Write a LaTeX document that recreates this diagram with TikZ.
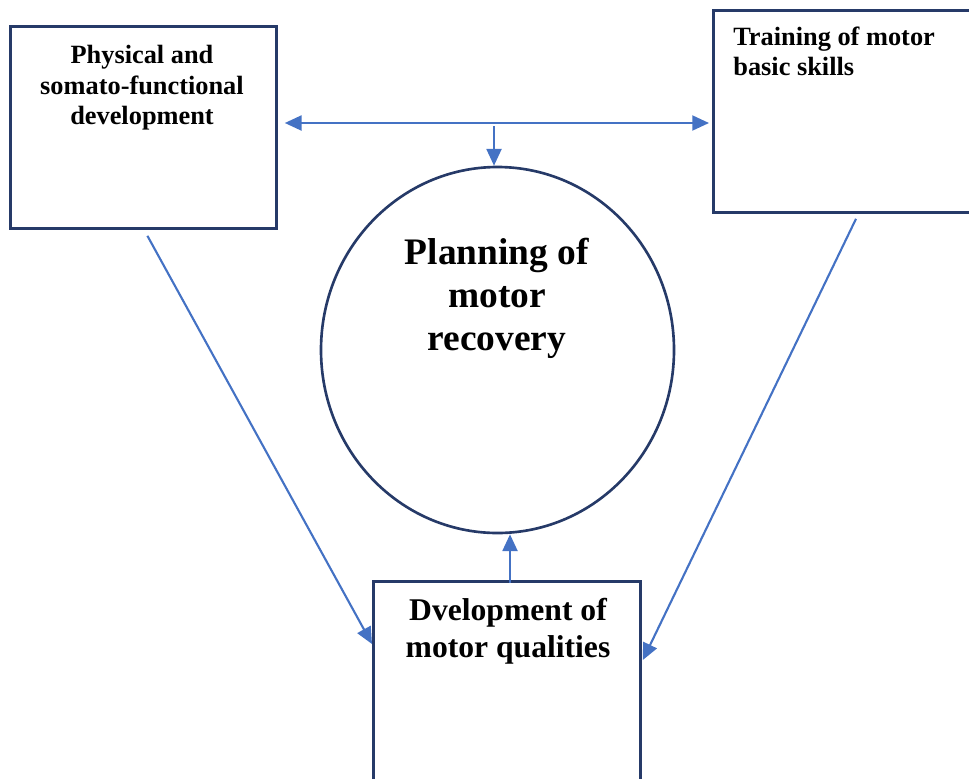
\documentclass[tikz,border=0pt]{standalone}
\usepackage{fontspec}
\setmainfont{Liberation Serif}
\usetikzlibrary{arrows.meta,calc,shapes.geometric}
\definecolor{boxline}{RGB}{38,58,104}
\definecolor{arrowblue}{RGB}{68,114,196}
\tikzset{
  box/.style={draw=boxline, line width=1.6pt, inner sep=0pt, anchor=north west},
  ring/.style={draw=boxline, line width=1.5pt, ellipse, inner sep=0pt},
  arr/.style={draw=arrowblue, line width=1.2pt, -{Triangle[length=9.5pt,width=8.5pt]}},
  txt/.style={inner sep=0pt, font=\bfseries}
}
\begin{document}
\begin{tikzpicture}[x=0.02cm,y=-0.02cm]
  \useasboundingbox (0,0) rectangle (969,778);
  \clip (0,0) rectangle (969,778);
  % boxes
  \node[box, minimum width=266*0.02cm, minimum height=202*0.02cm] (phys) at (9,25) {};
  \node[box, minimum width=270*0.02cm, minimum height=202*0.02cm] (train) at (712,9) {};
  \node[box, minimum width=267*0.02cm, minimum height=260*0.02cm] (qual) at (372,580) {};
  \node[ring, minimum width=353*0.02cm, minimum height=366*0.02cm] (plan) at (497.5,350) {};
  % texts
  \node[txt, anchor=north, align=center, font=\bfseries\fontsize{15}{17.3}\selectfont] (tphys) at (142,45)
    {Physical and\\somato-functional\\development};
  \node[txt, anchor=north west, align=left, font=\bfseries\fontsize{15}{17}\selectfont] (ttrain) at (733,27)
    {Training of motor\\basic skills};
  \node[txt, anchor=north, align=center, font=\bfseries\fontsize{18}{21}\selectfont] (tqual) at (508,598)
    {Dvelopment of\\motor qualities};
  \node[txt, anchor=north, align=center, font=\bfseries\fontsize{21.3}{24.4}\selectfont] (tplan) at (497,238)
    {Planning of\\motor\\recovery};
  % connectors
  \coordinate (hub) at (494,123);
  \coordinate (hubfoot) at (494,126);
  \coordinate (upfoot) at (510,583);
  \draw[arr, shorten >=7*0.02cm] (hub) -- (hub -| phys.east);
  \draw[arr, shorten >=3*0.02cm] (hub) -- (hub -| train.west);
  \draw[arr] (hubfoot) -- (hubfoot |- plan.north);
  \draw[arr] (upfoot) -- (upfoot |- plan.south);
  \draw[arr] ($(phys.south)+(4,6)$) -- ($(qual.north west)+(0,64)$);
  \draw[arr] ($(train.south west)+(144,5)$) -- ($(qual.north east)+(1,80)$);
\end{tikzpicture}
\end{document}
